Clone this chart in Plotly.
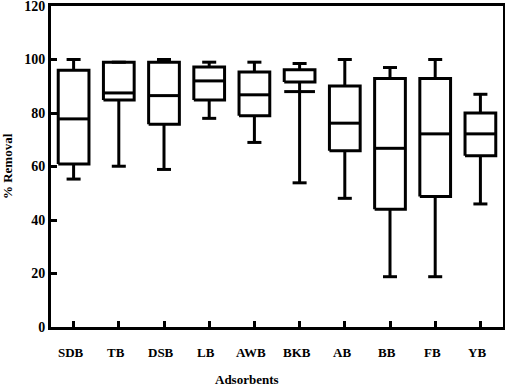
import plotly.graph_objects as go

categories = ["SDB", "TB", "DSB", "LB", "AWB", "BKB", "AB", "BB", "FB", "YB"]
upper_whisker = [100, 99, 100, 99, 99, 98.5, 100, 97, 100, 87]
q3_values = [96, 99, 99, 97.2, 95.3, 96.2, 90.1, 92.9, 92.9, 80]
median_values = [77.8, 87.5, 86.5, 92, 86.8, 88.0, 76.2, 66.8, 72.2, 72.2]
q1_values = [60.9, 84.9, 75.8, 84.9, 79, 91.6, 65.9, 44, 48.8, 64]
lower_whisker = [55.3, 60.1, 58.9, 78, 69, 53.9, 48.1, 18.8, 18.8, 46]
y_ticks = [0, 20, 40, 60, 80, 100, 120]

FONT = "Liberation Serif, Times New Roman, serif"
BOX_HALF = 0.34
CAP_HALF = 0.155

# Box-and-whisker outlines built from the data arrays
xs, ys = [], []
for i, cat in enumerate(categories):
    q1, q3, med = q1_values[i], q3_values[i], median_values[i]
    lo, hi = lower_whisker[i], upper_whisker[i]
    xs += [i - BOX_HALF, i + BOX_HALF, i + BOX_HALF, i - BOX_HALF, i - BOX_HALF, None]
    ys += [q1, q1, q3, q3, q1, None]
    xs += [i - BOX_HALF, i + BOX_HALF, None]
    ys += [med, med, None]
    xs += [i, i, None, i - CAP_HALF, i + CAP_HALF, None]
    ys += [q3, hi, None, hi, hi, None]
    xs += [i, i, None, i - CAP_HALF, i + CAP_HALF, None]
    ys += [q1, lo, None, lo, lo, None]

fig = go.Figure()
fig.add_trace(go.Scatter(
    x=xs, y=ys, mode="lines",
    line=dict(color="black", width=3),
    showlegend=False, hoverinfo="skip",
))

annotations = []
for i, cat in enumerate(categories):
    annotations.append(dict(
        x=i, y=0, xref="x", yref="y",
        text="<b>%s</b>" % cat, showarrow=False, textangle=0,
        xanchor="center", yanchor="middle", xshift=-3, yshift=-25,
        font=dict(family=FONT, size=13, color="black"),
    ))
annotations.append(dict(
    x=0.434, y=-0.162, xref="paper", yref="paper",
    text="<b>Adsorbents</b>", showarrow=False,
    xanchor="center", yanchor="middle",
    font=dict(family=FONT, size=13, color="black"),
))
annotations.append(dict(
    x=-0.096, y=0.5, xref="paper", yref="paper",
    text="<b>% Removal</b>", showarrow=False, textangle=-90,
    xanchor="center", yanchor="middle",
    font=dict(family=FONT, size=13, color="black"),
))

fig.update_layout(
    template="none",
    width=505, height=386,
    margin=dict(l=51, r=2, t=6, b=59, autoexpand=False),
    paper_bgcolor="white", plot_bgcolor="white",
    font=dict(family=FONT, color="black"),
    annotations=annotations,
    xaxis=dict(
        range=[-0.5, 9.5],
        tickmode="array", tickvals=list(range(len(categories))),
        showticklabels=False,
        showline=True, linecolor="black", linewidth=3, mirror=True,
        ticks="inside", ticklen=6, tickwidth=3, tickcolor="black",
        showgrid=False, zeroline=False, automargin=False,
    ),
    yaxis=dict(
        range=[0, 120], tickmode="array", tickvals=y_ticks,
        ticktext=["<b>%d</b>" % v for v in y_ticks],
        showline=True, linecolor="black", linewidth=3, mirror=True,
        ticks="inside", ticklen=6, tickwidth=3, tickcolor="black",
        ticklabeloverflow="allow",
        tickfont=dict(family=FONT, size=14),
        showgrid=False, zeroline=False, automargin=False,
    ),
)

fig.write_html(
    "out.html",
    config={"displayModeBar": False, "staticPlot": True},
    post_script="document.body.style.margin='0';document.body.style.overflow='hidden';",
)
